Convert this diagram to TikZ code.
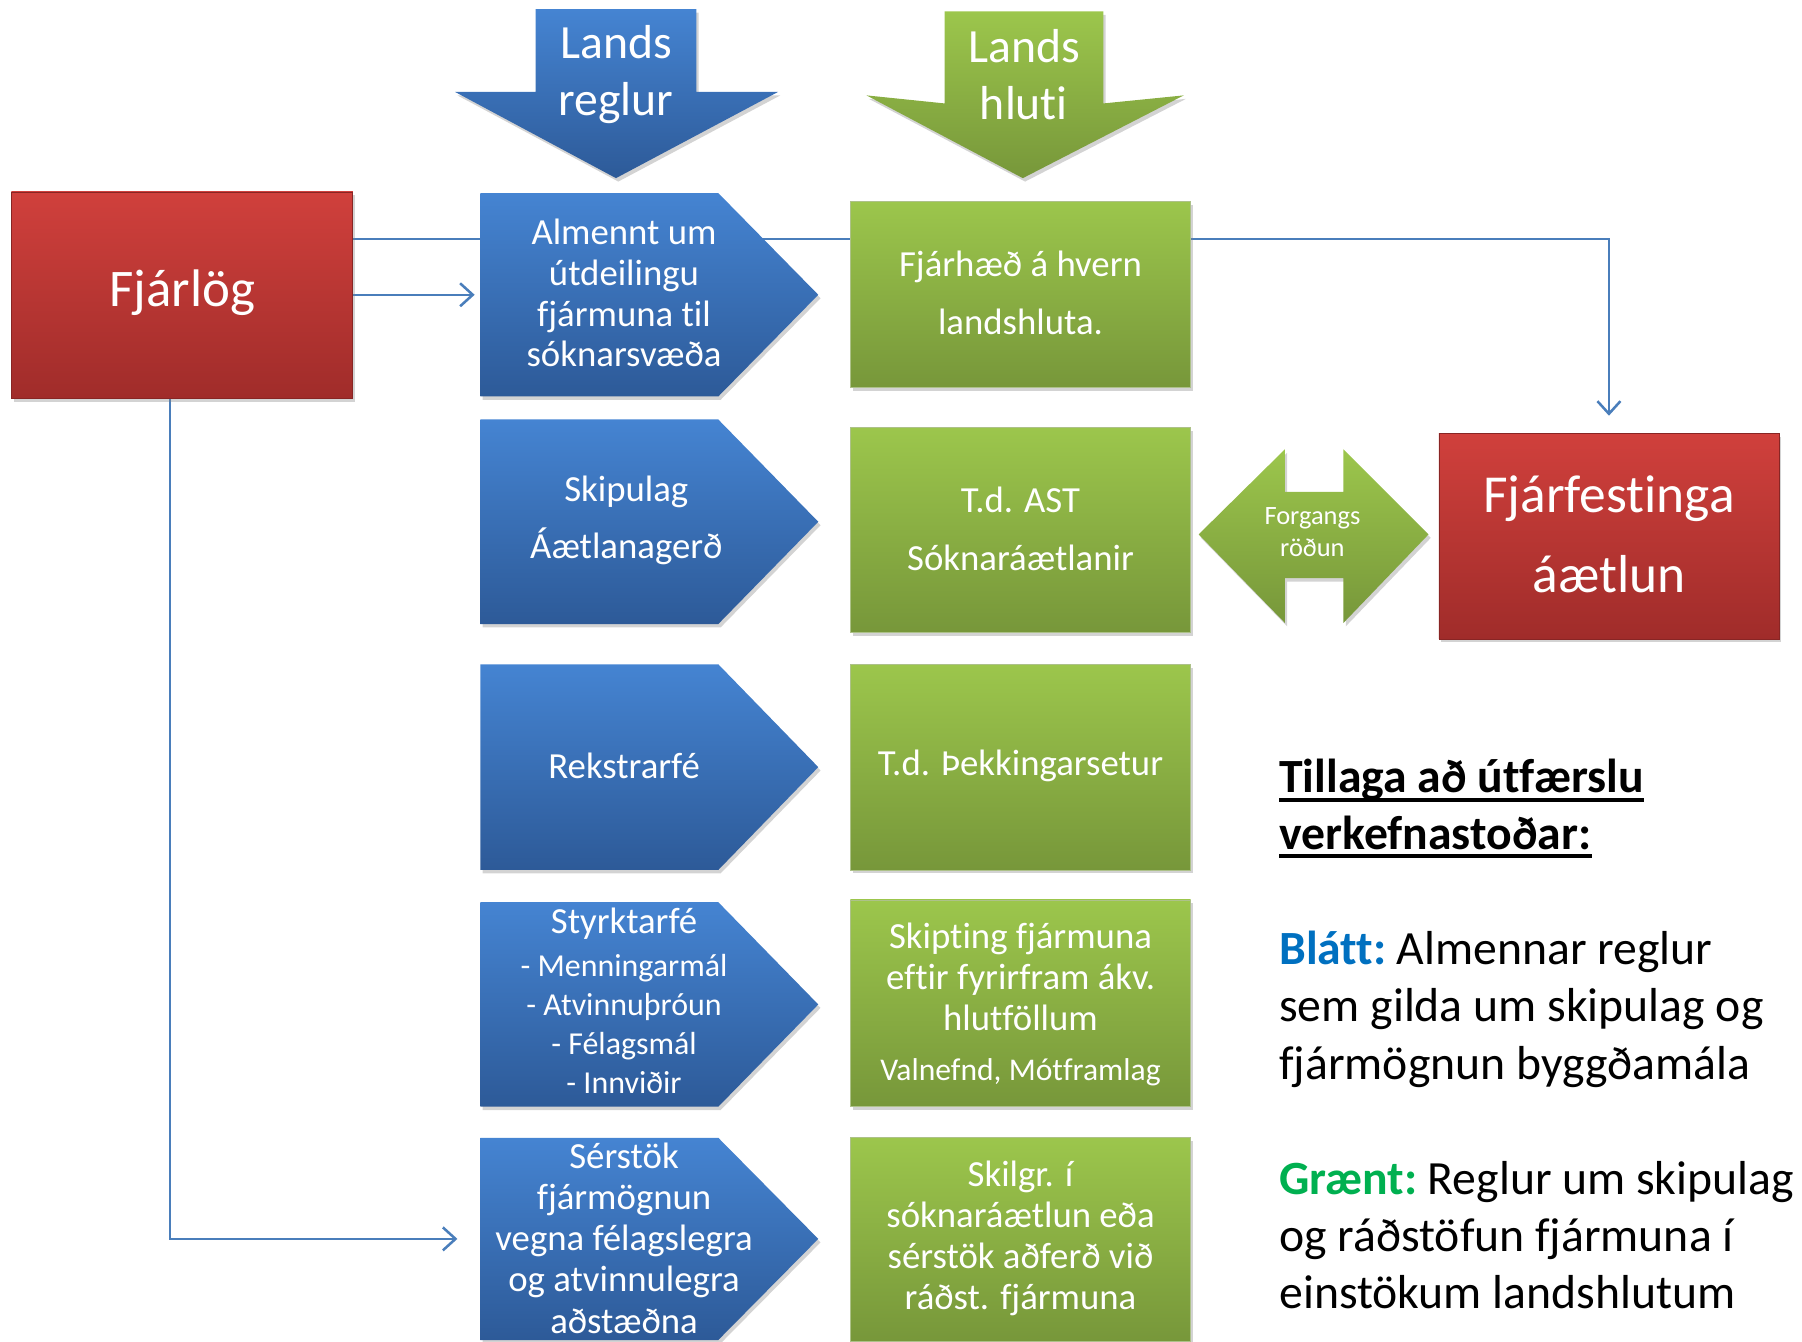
\documentclass[tikz,border=0pt]{standalone}
\usepackage{fontspec}
\setmainfont{Carlito}[Ligatures=NoCommon]
\usetikzlibrary{shadows,backgrounds,arrows.meta,calc}
\definecolor{redT}{HTML}{D0403C}
\definecolor{redB}{HTML}{A02C2A}
\definecolor{bluT}{HTML}{4584D2}
\definecolor{bluB}{HTML}{2D5A98}
\definecolor{grnT}{HTML}{9CC64C}
\definecolor{grnB}{HTML}{77973A}
\definecolor{lineblue}{HTML}{4A7EBB}
\definecolor{legblue}{HTML}{0070C0}
\definecolor{leggreen}{HTML}{00B050}
\newcommand\mypent[3]{%
  \path[bluefill] (418,#2) -- (625,#2) -- (712,{(#2+#3)/2}) -- (625,#3) -- (418,#3) -- cycle;
  \coordinate (#1) at (418,{(#2+#3)/2});}
\begin{document}
\begin{tikzpicture}[x=1pt,y=-1pt,
  shad/.style={drop shadow={opacity=0.35,shadow xshift=2pt,shadow yshift=-3pt}},
  redbox/.style={shad,top color=redT,bottom color=redB,draw=redB!85!black,line width=0.6pt,inner sep=0pt},
  bluefill/.style={shad,top color=bluT,bottom color=bluB},
  greenfill/.style={shad,top color=grnT,bottom color=grnB},
  greenbox/.style={shad,top color=grnT,bottom color=grnB,draw=grnB!60!white,line width=0.6pt,inner sep=0pt,minimum width=296pt},
  wtxt/.style={text=white,align=center,inner sep=0pt},
  conn/.style={draw=lineblue,line width=1.6pt,-{Straight Barb[length=11pt,width=20pt,line width=2.2pt]}},
  leg/.style={anchor=base west,inner sep=0pt,font=\fontsize{41.5}{50}\selectfont}
]
\useasboundingbox (0,0) rectangle (1568,1167);

% top arrows
\path[bluefill] (466,8) -- (606,8) -- (606,80) -- (677,80) -- (536,155) -- (396,80) -- (466,80) -- cycle;
\node[wtxt,font=\fontsize{41.5}{50}\selectfont] (lr) at (536,65) {Lands\\reglur};
\path[greenfill] (822,10) -- (960,10) -- (960,90) -- (1030,83) -- (890,155) -- (754,83) -- (822,90) -- cycle;
\node[wtxt,font=\fontsize{41.5}{50}\selectfont] (lh) at (891,65) {Lands\\hluti};

% red boxes
\node[redbox,minimum width=297pt,minimum height=180pt] (fj) at (158.5,257) {};
\node[wtxt,font=\fontsize{46}{50}\selectfont] (fjt) at (158.5,255) {Fjárlög};
\node[redbox,minimum width=296pt,minimum height=179pt] (fa) at (1400,466.5) {};
\node[wtxt,font=\fontsize{46.5}{70}\selectfont] (fat) at (1400,465) {Fjárfestinga\\áætlun};

% blue pentagons
\mypent{b1}{168}{345}
\mypent{b2}{365}{543}
\mypent{b3}{578}{757}
\mypent{b4}{785}{963}
\mypent{b5}{990}{1166}
\node[wtxt,font=\fontsize{32}{35.5}\selectfont] (t1) at (543,255) {Almennt um\\útdeilingu\\fjármuna til\\sóknarsvæða};
\node[wtxt,font=\fontsize{32}{50}\selectfont] (t2) at (545,453) {Skipulag\\Áætlanagerð};
\node[wtxt,font=\fontsize{32}{50}\selectfont] (t3) at (543,666) {Rekstrarfé};
\node[wtxt,font=\fontsize{32}{36}\selectfont] (t4a) at (543,804) {Styrktarfé};
\node[wtxt,font=\fontsize{27.8}{34}\selectfont] (t4b) at (543,891) {- Menningarmál\\- Atvinnuþróun\\- Félagsmál\\- Innviðir};
\node[wtxt,font=\fontsize{32}{35.7}\selectfont] (t5) at (543,1077.5) {Sérstök\\fjármögnun\\vegna félagslegra\\og atvinnulegra\\aðstæðna};

% green boxes
\node[greenbox,minimum height=162pt] (g1) at (888,256) {};
\node[greenbox,minimum height=178pt] (g2) at (888,461) {};
\node[greenbox,minimum height=179pt] (g3) at (888,667.5) {};
\node[greenbox,minimum height=180pt] (g4) at (888,873) {};
\node[greenbox,minimum height=177pt] (g5) at (888,1078.5) {};
\node[wtxt,font=\fontsize{32}{50}\selectfont] (u1) at (888,255) {Fjárhæð á hvern\\landshluta.};
\node[wtxt,font=\fontsize{32}{50}\selectfont] (u2) at (888,460) {T.d. AST\\Sóknaráætlanir};
\node[wtxt,font=\fontsize{32}{50}\selectfont] (u3) at (888,666) {T.d. Þekkingarsetur};
\node[wtxt,font=\fontsize{32}{35.5}\selectfont] (u4a) at (888,850) {Skipting fjármuna\\eftir fyrirfram ákv.\\hlutföllum};
\node[wtxt,font=\fontsize{27.5}{30}\selectfont] (u4b) at (888,933) {Valnefnd, Mótframlag};
\node[wtxt,font=\fontsize{32}{35.7}\selectfont] (u5) at (888,1077.5) {Skilgr. í\\sóknaráætlun eða\\sérstök aðferð við\\ráðst. fjármuna};

% double arrow
\path[greenfill] (1043,465) -- (1118,391) -- (1118,428) -- (1169,428) -- (1169,391) -- (1243,465)
  -- (1169,542) -- (1169,503) -- (1118,503) -- (1118,542) -- cycle;
\node[wtxt,font=\fontsize{23}{27}\selectfont] (fo) at (1142,463) {Forgangs\\röðun};

% legend
\node[leg,font=\fontsize{41.5}{50}\bfseries] (l1) at (1113,690) {Tillaga að útfærslu};
\node[leg,font=\fontsize{41.5}{50}\bfseries] (l2) at (1113,739) {verkefnastoðar:};
\draw[line width=3.2pt] ([yshift=-6pt]l1.base west) -- ([yshift=-6pt]l1.base east);
\draw[line width=3.2pt] ([yshift=-6pt]l2.base west) -- ([yshift=-6pt]l2.base east);
\node[leg] (l3) at (1113,839) {\textbf{\color{legblue}Blátt:}\hspace{9pt}Almennar reglur};
\node[leg] (l4) at (1113,889) {sem gilda um skipulag og};
\node[leg] (l5) at (1113,939) {fjármögnun byggðamála};
\node[leg] (l6) at (1113,1039) {\textbf{\color{leggreen}Grænt:}\hspace{9pt}Reglur um skipulag};
\node[leg] (l7) at (1113,1089) {og ráðstöfun fjármuna í};
\node[leg] (l8) at (1113,1139) {einstökum landshlutum};

% connectors
\coordinate (ya) at (0,208);
\coordinate (xc) at (148,0);
\begin{pgfonlayer}{background}
\draw[conn,shorten >=15pt] (fj.east |- ya) -| (fa.north);
\draw[conn,shorten >=5pt] (fj.east |- b1) -- (b1);
\draw[conn,shorten >=20pt] (fj.south -| xc) |- (b5);
\end{pgfonlayer}
\end{tikzpicture}
\end{document}
